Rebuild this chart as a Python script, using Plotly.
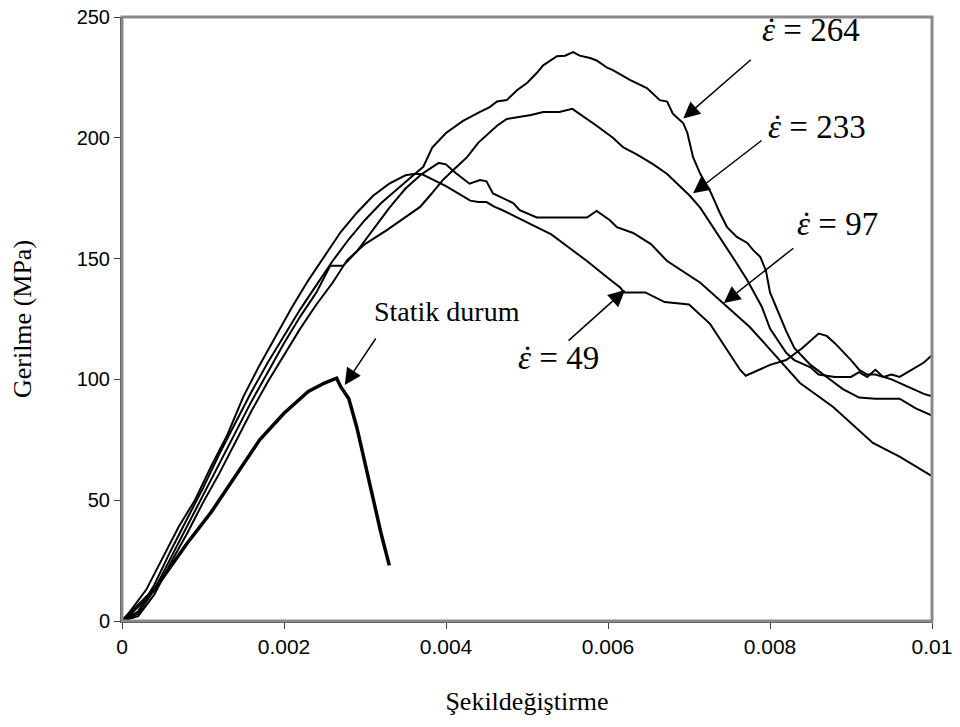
import plotly.graph_objects as go

# ---- data (strain, stress MPa) ----
x_static = [0, 0.0001, 0.0004, 0.0008, 0.0011, 0.0014, 0.0017, 0.0020, 0.0023, 0.0025, 0.00265,
            0.0027, 0.0028, 0.0029, 0.0030, 0.0031, 0.0032, 0.0033]
y_static = [0, 3, 13, 32, 45, 60, 75, 86, 95, 98.5, 100.5,
            97, 92, 80, 65, 50, 36, 23]

x_264 = [0, 0.0002, 0.0004, 0.0006, 0.0008, 0.0010, 0.0012, 0.0014, 0.0016, 0.0018, 0.0020,
         0.0022, 0.0024, 0.0026, 0.0028, 0.0030, 0.0032, 0.0034, 0.0036, 0.00372, 0.00383,
         0.0040, 0.00421, 0.00442, 0.00454, 0.00463, 0.00475, 0.00488, 0.0050, 0.00512, 0.0052,
         0.00537, 0.00547, 0.00557, 0.00565, 0.00578, 0.00586, 0.00599, 0.00606, 0.00627, 0.00648,
         0.00664, 0.00673, 0.0068, 0.00693, 0.00698, 0.00705, 0.00714, 0.00726, 0.00738, 0.00747,
         0.00759, 0.00772, 0.00779, 0.00788, 0.00795, 0.0080, 0.0081, 0.0082, 0.0083, 0.0085,
         0.0087, 0.0089, 0.0091, 0.0093, 0.0096, 0.0098, 0.0100]
y_264 = [0, 4, 15, 29, 42, 55, 69, 82, 95, 107, 118,
         129, 139, 149, 158, 166, 173, 179, 184.6, 188, 196,
         202, 207, 210.7, 212.7, 215, 215.6, 219.8, 222.7, 226.8, 230,
         233.8, 234, 235.5, 234, 233, 232, 229, 228, 224, 220.6,
         215.6, 215, 210, 206, 202, 192, 185, 178, 169, 163,
         159, 156.5, 153.6, 150.7, 145, 136, 128, 120, 113, 106,
         101, 96, 92.5, 92, 92, 88, 85]

x_233 = [0, 0.0002, 0.0004, 0.0006, 0.0008, 0.0010, 0.0012, 0.0014, 0.0016, 0.0018, 0.0020,
         0.0022, 0.0024, 0.0026, 0.00278, 0.0030, 0.00327, 0.0035, 0.00368, 0.0038, 0.00396,
         0.0041, 0.00426, 0.0044, 0.00463, 0.00475, 0.0049, 0.00505, 0.0052, 0.0054, 0.00556,
         0.00569, 0.00586, 0.00606, 0.00619, 0.00636, 0.00656, 0.00673, 0.00685, 0.00701, 0.00714,
         0.00726, 0.00742, 0.00759, 0.00772, 0.0079, 0.0080, 0.0082, 0.0083, 0.0085, 0.0086,
         0.0088, 0.0090, 0.0091, 0.0092, 0.0093, 0.0094, 0.0095, 0.0097, 0.0099, 0.0100]
y_233 = [0, 2, 11, 24, 36, 49, 61, 74, 87, 99, 110,
         121, 131, 140, 149.4, 156, 161.8, 167, 171.4, 176, 182.5,
         187, 192, 198, 205, 207.8, 208.5, 209.4, 210.7, 210.7, 212,
         209, 205, 200, 196, 193, 189, 185, 181, 176, 171,
         165, 156.5, 148, 141, 130, 121, 111, 108, 105, 102,
         101, 101, 103, 101, 104, 101, 100, 97, 94, 93]

x_97 = [0, 0.0002, 0.0004, 0.0006, 0.0008, 0.0010, 0.0012, 0.0014, 0.0016, 0.0018, 0.0020,
        0.0022, 0.0024, 0.00257, 0.00273, 0.0029, 0.0031, 0.0033, 0.0035, 0.0037, 0.00391,
        0.0040, 0.00412, 0.00429, 0.00442, 0.0045, 0.00458, 0.00467, 0.00483, 0.00491, 0.00512,
        0.0054, 0.00574, 0.00586, 0.00602, 0.00611, 0.00631, 0.00653, 0.00673, 0.00714, 0.00742,
        0.00775, 0.00809, 0.00837, 0.00878, 0.00927, 0.0096, 0.0100]
y_97 = [0, 3, 13, 26, 39, 52, 65, 78, 91, 103, 115,
        126, 136, 147, 147, 153, 162, 171, 179, 185, 189.6,
        189, 185.4, 181, 182.5, 182, 177, 175.5, 173, 170, 167,
        167, 167, 169.7, 166, 163, 160.6, 156, 149, 140, 131.6,
        121.7, 109, 98.5, 88.6, 73.7, 68, 60]

x_49 = [0, 0.0001, 0.0003, 0.0005, 0.0007, 0.0009, 0.0011, 0.0013, 0.0015, 0.0017, 0.0019,
        0.0021, 0.0023, 0.0025, 0.0027, 0.0029, 0.0031, 0.0033, 0.0035, 0.0036, 0.0037,
        0.0040, 0.0042, 0.0043, 0.0044, 0.0045, 0.0046, 0.0047, 0.0050, 0.0053, 0.0055,
        0.00574, 0.0060, 0.00615, 0.0062, 0.00646, 0.0067, 0.0070, 0.00726, 0.00742, 0.00763,
        0.0077, 0.0078, 0.0080, 0.0082, 0.0084, 0.0086, 0.0087, 0.0088, 0.0090, 0.0091,
        0.0092, 0.0093, 0.0094, 0.0095, 0.0096, 0.0097, 0.0098, 0.0099, 0.0100]
y_49 = [0, 4, 13, 26, 39, 50, 64, 77, 93, 106, 118,
        130, 141, 151, 161, 169, 176, 181, 184.5, 185, 185,
        180, 176, 174, 173.4, 173.4, 171.4, 170, 165, 160, 155,
        149, 142, 138, 136, 136, 132, 131, 123, 115, 104,
        101.5, 103, 106, 108, 113, 119, 118, 115, 108, 104,
        102, 102, 101, 102, 101, 103, 105, 107, 110]

x_ticks = [0, 0.002, 0.004, 0.006, 0.008, 0.01]
x_tick_labels = ["0", "0.002", "0.004", "0.006", "0.008", "0.01"]
y_ticks = [0, 50, 100, 150, 200, 250]

# annotation anchors (data coords)
labels = ["<i>ε</i> = 264", "<i>ε</i> = 233", "<i>ε</i> = 97", "<i>ε</i> = 49"]
label_x = [0.00788, 0.007955, 0.008313, 0.004869]
label_y = [244.6, 204.5, 164.3, 108.9]
arrow_tip_x = [0.00693, 0.00705, 0.00743, 0.00621, 0.00275]
arrow_tip_y = [208, 177, 131.6, 137, 97.7]
arrow_ax = [69, 70, 71, -58, 32]
arrow_ay = [-60, -54, -56, 52, -48]

fig = go.Figure()
line_style = dict(color="black", width=2)
for xs, ys in [(x_264, y_264), (x_233, y_233), (x_97, y_97), (x_49, y_49)]:
    fig.add_trace(go.Scatter(x=xs, y=ys, mode="lines", line=line_style, showlegend=False))
fig.add_trace(go.Scatter(x=x_static, y=y_static, mode="lines",
                         line=dict(color="black", width=3.5), showlegend=False))

serif = "Liberation Serif, Times New Roman, serif"
sans = "Liberation Sans, Arial, sans-serif"

for t, lx, ly in zip(labels, label_x, label_y):
    fig.add_annotation(x=lx, y=ly, text=t, showarrow=False, xanchor="left", yanchor="middle",
                       font=dict(family=serif, size=33, color="black"))
    fig.add_annotation(x=lx, y=ly, text="˙", showarrow=False, xanchor="left", yanchor="middle",
                       xshift=4, yshift=0,
                       font=dict(family=serif, size=33, color="black"))
fig.add_annotation(x=0.004012, y=127.9, text="Statik durum", showarrow=False,
                   font=dict(family=serif, size=28, color="black"))

for tx, ty, ax, ay in zip(arrow_tip_x, arrow_tip_y, arrow_ax, arrow_ay):
    fig.add_annotation(x=tx, y=ty, ax=ax, ay=ay, text="", showarrow=True,
                       arrowhead=2, arrowsize=2.2, arrowwidth=1.5, arrowcolor="black",
                       standoff=0, startstandoff=0)

fig.update_layout(
    width=960, height=727,
    margin=dict(l=114, r=36, t=9, b=114, autoexpand=False),
    paper_bgcolor="white", plot_bgcolor="white",
    shapes=[dict(type="rect", xref="paper", yref="paper", x0=0, y0=0, x1=1, y1=1,
                 line=dict(color="#8a8a8a", width=3), layer="above")],
)
fig.update_xaxes(range=[0, 0.01], tickvals=x_ticks, ticktext=x_tick_labels,
                 showgrid=False, zeroline=False, showline=True, linecolor="#404040", linewidth=2,
                 ticks="outside", ticklen=6, tickcolor="#404040",
                 ticklabeloverflow="allow", automargin=False,
                 tickfont=dict(family=sans, size=21, color="black"),
                 title=dict(text="Şekildeğiştirme", font=dict(family=serif, size=26, color="black"),
                            standoff=35))
fig.update_yaxes(range=[0, 250], tickvals=y_ticks,
                 showgrid=False, zeroline=False, showline=True, linecolor="#404040", linewidth=2,
                 ticks="outside", ticklen=6, tickcolor="#404040",
                 ticklabeloverflow="allow", automargin=False,
                 tickfont=dict(family=sans, size=20, color="black"),
                 title=dict(text="Gerilme (MPa)", font=dict(family=serif, size=26, color="black"),
                            standoff=38))

fig.write_html("out.html")
